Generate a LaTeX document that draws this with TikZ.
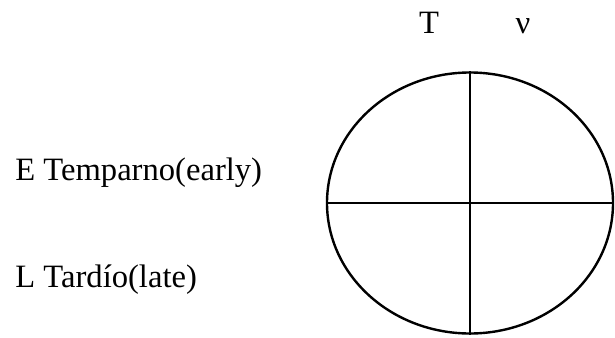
\documentclass[tikz,border=0pt]{standalone}
\usepackage{fontspec}
\setmainfont{Liberation Serif}
\usetikzlibrary{shapes.geometric}

\begin{document}
\begin{tikzpicture}[
  x=0.5pt, y=-0.5pt,
  font=\fontsize{16.3}{19}\selectfont,
  line/.style={draw=black, line width=1.2pt},
  ring/.style={line, ellipse, inner sep=0pt, minimum width=143pt, minimum height=130.5pt},
  rowlabel/.style={anchor=base west, inner sep=0pt},
  colhead/.style={anchor=base, inner sep=0pt}
]
\useasboundingbox (0,0) rectangle (615,337);

% Quartered ellipse.
\node[ring] (oval) at (470,203) {};
\draw[line] (oval.north) -- (oval.south);
\draw[line] (oval.west) -- (oval.east);

% Column heads.
\node[colhead] (tcol) at (429,33) {T};
\node[colhead] (nucol) at (523,33) {ν};

% Row labels.
\node[rowlabel] (early) at (15,180) {E Temparno(early)};
\node[rowlabel] (late) at (15,287) {L Tardío(late)};

\end{tikzpicture}
\end{document}
